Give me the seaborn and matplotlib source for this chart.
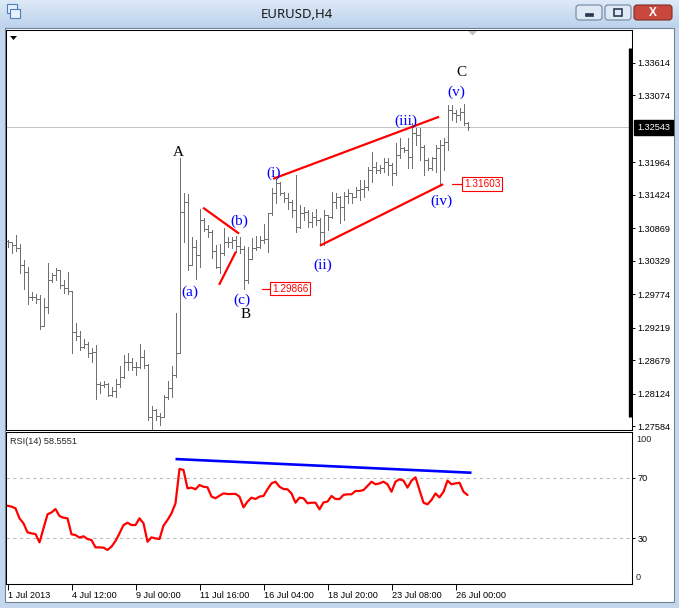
import numpy as np
import pandas as pd
import matplotlib
matplotlib.use("Agg")
import matplotlib.pyplot as plt
import matplotlib.transforms as mtransforms
from matplotlib.patches import Rectangle, FancyBboxPatch, Polygon
from matplotlib.lines import Line2D
from matplotlib.colors import LinearSegmentedColormap
import seaborn as sns

# ------------------------------------------------------------------ data
window_title = "EURUSD,H4"
time_labels = ["1 Jul 2013", "4 Jul 12:00", "9 Jul 00:00", "11 Jul 16:00",
               "16 Jul 04:00", "18 Jul 20:00", "23 Jul 08:00", "26 Jul 00:00"]
bars_per_label = 16

opens = [1.3066, 1.3064, 1.3059, 1.3054, 1.3026, 1.3014, 1.2973, 1.2973, 1.2970, 1.2925,
         1.2956, 1.3001, 1.3010, 1.3018, 1.2993, 1.2988, 1.2983, 1.2915, 1.2908, 1.2890,
         1.2895, 1.2880, 1.2882, 1.2829, 1.2827, 1.2829, 1.2810, 1.2817, 1.2829, 1.2840,
         1.2865, 1.2865, 1.2857, 1.2857, 1.2873, 1.2860, 1.2774, 1.2785, 1.2775, 1.2774,
         1.2807, 1.2822, 1.2844, 1.2880, 1.3114, 1.3131, 1.3026, 1.3056, 1.3043, 1.3101,
         1.3086, 1.3081, 1.3049, 1.3023, 1.3046, 1.3064, 1.3064, 1.3068, 1.3058, 1.3053,
         1.3001, 1.3036, 1.3054, 1.3056, 1.3068, 1.3069, 1.3112, 1.3146, 1.3162, 1.3146,
         1.3137, 1.3131, 1.3117, 1.3089, 1.3112, 1.3114, 1.3097, 1.3106, 1.3101, 1.3081,
         1.3109, 1.3106, 1.3131, 1.3139, 1.3122, 1.3141, 1.3146, 1.3139, 1.3151, 1.3152,
         1.3156, 1.3184, 1.3189, 1.3184, 1.3187, 1.3197, 1.3192, 1.3179, 1.3209, 1.3220,
         1.3217, 1.3205, 1.3245, 1.3242, 1.3222, 1.3200, 1.3187, 1.3204, 1.3220, 1.3225,
         1.3230, 1.3283, 1.3278, 1.3275, 1.3280, 1.3262]
highs = [1.3068, 1.3064, 1.3076, 1.3061, 1.3034, 1.3023, 1.2981, 1.2978, 1.2976, 1.2971,
         1.3029, 1.3013, 1.3021, 1.3018, 1.3001, 1.3014, 1.2983, 1.2930, 1.2917, 1.2903,
         1.2898, 1.2888, 1.2893, 1.2832, 1.2834, 1.2830, 1.2824, 1.2837, 1.2858, 1.2877,
         1.2880, 1.2872, 1.2865, 1.2895, 1.2885, 1.2862, 1.2792, 1.2787, 1.2780, 1.2810,
         1.2834, 1.2858, 1.2946, 1.3204, 1.3146, 1.3144, 1.3073, 1.3068, 1.3119, 1.3104,
         1.3092, 1.3084, 1.3059, 1.3061, 1.3088, 1.3073, 1.3073, 1.3074, 1.3073, 1.3058,
         1.3056, 1.3071, 1.3074, 1.3074, 1.3094, 1.3112, 1.3154, 1.3169, 1.3164, 1.3147,
         1.3146, 1.3134, 1.3176, 1.3126, 1.3122, 1.3117, 1.3114, 1.3119, 1.3104, 1.3117,
         1.3109, 1.3147, 1.3146, 1.3141, 1.3147, 1.3152, 1.3146, 1.3156, 1.3167, 1.3167,
         1.3189, 1.3214, 1.3197, 1.3192, 1.3204, 1.3204, 1.3195, 1.3229, 1.3237, 1.3222,
         1.3237, 1.3262, 1.3254, 1.3254, 1.3225, 1.3204, 1.3205, 1.3225, 1.3234, 1.3237,
         1.3292, 1.3292, 1.3283, 1.3287, 1.3293, 1.3263]
lows = [1.3056, 1.3046, 1.3049, 1.3013, 1.2986, 1.2961, 1.2968, 1.2963, 1.2920, 1.2925,
        1.2946, 1.2998, 1.3001, 1.2988, 1.2980, 1.2978, 1.2880, 1.2902, 1.2885, 1.2888,
        1.2873, 1.2865, 1.2804, 1.2814, 1.2824, 1.2809, 1.2809, 1.2807, 1.2824, 1.2839,
        1.2852, 1.2852, 1.2844, 1.2855, 1.2855, 1.2769, 1.2754, 1.2769, 1.2761, 1.2774,
        1.2804, 1.2807, 1.2840, 1.2880, 1.3064, 1.3018, 1.3026, 1.3003, 1.3023, 1.3083,
        1.3073, 1.3038, 1.3021, 1.3013, 1.3043, 1.3056, 1.3054, 1.3048, 1.3046, 1.29866,
        1.2996, 1.3036, 1.3051, 1.3054, 1.3063, 1.3048, 1.3109, 1.3129, 1.3142, 1.3131,
        1.3119, 1.3106, 1.3081, 1.3088, 1.3101, 1.3089, 1.3089, 1.3092, 1.3059, 1.3059,
        1.3084, 1.3104, 1.3121, 1.3096, 1.3101, 1.3129, 1.3129, 1.3139, 1.3134, 1.3139,
        1.3151, 1.3164, 1.3179, 1.3179, 1.3180, 1.3176, 1.3159, 1.3176, 1.3204, 1.3214,
        1.3187, 1.3187, 1.3225, 1.3200, 1.3176, 1.3184, 1.3184, 1.3180, 1.31603, 1.3184,
        1.3217, 1.3267, 1.3263, 1.3267, 1.3259, 1.3250]
closes = [1.3064, 1.3059, 1.3054, 1.3026, 1.3014, 1.2973, 1.2973, 1.2970, 1.2925, 1.2956,
          1.3001, 1.3010, 1.3018, 1.2993, 1.2988, 1.2983, 1.2915, 1.2908, 1.2890, 1.2895,
          1.2880, 1.2882, 1.2829, 1.2827, 1.2829, 1.2810, 1.2817, 1.2829, 1.2840, 1.2865,
          1.2865, 1.2857, 1.2857, 1.2873, 1.2860, 1.2774, 1.2785, 1.2775, 1.2774, 1.2807,
          1.2822, 1.2844, 1.2880, 1.3114, 1.3131, 1.3026, 1.3056, 1.3043, 1.3101, 1.3086,
          1.3081, 1.3049, 1.3023, 1.3046, 1.3064, 1.3064, 1.3068, 1.3058, 1.3053, 1.3001,
          1.3036, 1.3054, 1.3056, 1.3068, 1.3069, 1.3112, 1.3146, 1.3162, 1.3146, 1.3137,
          1.3131, 1.3117, 1.3089, 1.3112, 1.3114, 1.3097, 1.3106, 1.3101, 1.3081, 1.3109,
          1.3106, 1.3131, 1.3139, 1.3122, 1.3141, 1.3146, 1.3139, 1.3151, 1.3152, 1.3156,
          1.3184, 1.3189, 1.3184, 1.3187, 1.3197, 1.3192, 1.3179, 1.3209, 1.3220, 1.3217,
          1.3205, 1.3245, 1.3242, 1.3222, 1.3200, 1.3187, 1.3204, 1.3220, 1.3225, 1.3230,
          1.3283, 1.3278, 1.3275, 1.3280, 1.3262, 1.32543]
rsi_values = [51.5, 50.9, 49.8, 43.2, 39.9, 34.0, 33.3, 32.9, 27.4, 36.6,
              45.8, 47.1, 49.3, 44.7, 43.6, 43.2, 32.7, 32.2, 30.5, 31.4,
              29.6, 28.9, 24.1, 24.1, 23.9, 22.4, 24.6, 28.3, 33.3, 38.8,
              40.3, 38.8, 38.8, 43.2, 39.9, 27.8, 30.7, 30.0, 29.6, 38.4,
              42.1, 46.5, 53.1, 75.7, 75.0, 62.9, 63.4, 62.3, 65.1, 64.0,
              63.6, 57.5, 56.4, 58.1, 59.6, 59.2, 59.2, 59.3, 57.5, 50.4,
              54.2, 56.8, 55.9, 57.5, 57.9, 62.3, 66.2, 67.3, 64.0, 62.5,
              62.3, 59.6, 53.5, 56.8, 56.4, 53.1, 53.5, 53.5, 49.1, 53.7,
              54.2, 57.9, 55.9, 55.9, 58.6, 59.0, 59.0, 61.2, 61.2, 61.8,
              64.5, 67.3, 65.6, 66.2, 67.3, 65.6, 60.7, 67.3, 68.9, 68.0,
              63.4, 68.0, 70.2, 61.8, 53.5, 52.4, 55.3, 59.6, 57.0, 60.7,
              68.0, 65.6, 66.2, 66.6, 60.7, 58.56]
rsi_title = "RSI(14) 58.5551"
rsi_levels = [70, 30]
price_ticks = [1.33614, 1.33074, 1.31964, 1.31424, 1.30869, 1.30329,
               1.29774, 1.29219, 1.28679, 1.28124, 1.27584]
bid_price = 1.32543

level_prices = [1.29866, 1.31603]
level_line_from = [63.6, 111.1]
level_line_to = [65.6, 113.6]

wave_text = ["A", "B", "C", "(a)", "(b)", "(c)", "(i)", "(ii)", "(iii)", "(iv)", "(v)"]
wave_bar = [42.6, 59.6, 113.6, 45.6, 57.9, 58.6, 66.6, 78.9, 99.6, 108.6, 112.1]
wave_price = [1.3212, 1.2943, 1.3346, 1.2980, 1.3098, 1.2968, 1.3179, 1.3026, 1.3265, 1.3132, 1.3313]
wave_color = ["black", "black", "black"] + ["#0000ff"] * 8

trend_bar0 = [48.9, 52.9, 66.4, 78.1]
trend_price0 = [1.3121, 1.2993, 1.3169, 1.3058]
trend_bar1 = [57.9, 57.1, 107.9, 108.9]
trend_price1 = [1.3078, 1.3048, 1.3272, 1.3160]

rsi_trend_bar = [42, 116]
rsi_trend_val = [82.2, 73.2]

# ------------------------------------------------------------------ setup
W, H = 679, 608
sns.set_theme(style="white")
plt.rcParams['font.family'] = ['Liberation Sans', 'DejaVu Sans']

fig = plt.figure(figsize=(W / 100, H / 100), dpi=100)
fig.patch.set_facecolor('#c4d7ed')


def frect(x0, y0, x1, y1):
    return [x0 / W, 1 - y1 / H, (x1 - x0) / W, (y1 - y0) / H]


# window chrome (pixel coordinates)
bg = fig.add_axes([0, 0, 1, 1], zorder=-10)
bg.axis('off')
cmap = LinearSegmentedColormap.from_list('t', ['#dde9f7', '#bcd3ec'])
bg.imshow(np.linspace(0, 1, 28)[:, None], extent=(0, W, 28, 0), cmap=cmap, aspect='auto')
bg.set_xlim(0, W)
bg.set_ylim(H, 0)
bg.add_patch(Rectangle((4.5, 27.5), 669, 574, fc='white', ec='#6f8298', lw=0.8))
bg.text(297, 14, window_title, ha='center', va='center', fontsize=9.5,
        family=['Noto Sans', 'DejaVu Sans'], color='#1a1a1a')
# title-bar buttons
for x0, w, fc, ec in [(576, 26, '#dfe9f5', '#71869f'), (605, 26, '#dfe9f5', '#71869f'),
                      (634, 38, '#c9483e', '#7d2c26')]:
    bg.add_patch(FancyBboxPatch((x0, 5), w, 15, boxstyle='round,pad=0,rounding_size=3',
                                fc=fc, ec=ec, lw=0.8))
bg.add_patch(Rectangle((585, 13), 8, 2.5, fc='#2b3c52', ec='#2b3c52', lw=0.5))
bg.add_patch(Rectangle((614, 9), 8, 7, fc='none', ec='#2b3c52', lw=1.2))
bg.text(653, 12.5, "X", ha='center', va='center', fontsize=8.5, fontweight='bold', color='white')
# app icon
bg.add_patch(Rectangle((7, 4), 10, 9, fc='#e8f0fb', ec='#4a7fc1', lw=0.8))
bg.add_patch(Rectangle((10, 9), 10, 9, fc='#e8f0fb', ec='#4a7fc1', lw=0.8))

ax = fig.add_axes(frect(6, 30, 632, 430))
ax2 = fig.add_axes(frect(6, 432, 632, 584))
xlim = (-0.375, 156.125)

df = pd.DataFrame({'bar': np.arange(len(opens)), 'open': opens, 'high': highs,
                   'low': lows, 'close': closes, 'rsi': rsi_values})

# ------------------------------------------------------------------ main chart
bar_col = '#707070'
ax.axhline(bid_price, color='#c4c4c4', lw=0.7, zorder=0)
ax.vlines(df['bar'], df['low'], df['high'], color=bar_col, lw=0.6, antialiased=False)
ax.hlines(df['open'], df['bar'] - 0.42, df['bar'], color=bar_col, lw=0.6, antialiased=False)
ax.hlines(df['close'], df['bar'], df['bar'] + 0.42, color=bar_col, lw=0.6, antialiased=False)

for b0, p0, b1, p1 in zip(trend_bar0, trend_price0, trend_bar1, trend_price1):
    ax.plot([b0, b1], [p0, p1], color='#ff0000', lw=1.6, solid_capstyle='butt')

for t, b, p, c in zip(wave_text, wave_bar, wave_price, wave_color):
    ax.text(b, p, t, ha='center', va='center', color=c, fontsize=11,
            family=['Liberation Serif', 'DejaVu Serif'])

for p, a0, a1 in zip(level_prices, level_line_from, level_line_to):
    ax.plot([a0, a1], [p, p], color='#ff0000', lw=0.9)
    ax.text(a1 + 0.55, p, f"{p:.5f}", ha='left', va='center', color='#ff0000', fontsize=7.2,
            bbox=dict(boxstyle='square,pad=0.18', fc='white', ec='#ff0000', lw=0.8))

ax.set_xlim(*xlim)
ax.set_ylim(1.2752, 1.3416)
ax.set_xticks([])
ax.yaxis.tick_right()
ax.set_yticks(price_ticks)
ax.set_yticklabels([f"{v:.5f}" for v in price_ticks])
ax.tick_params(axis='y', right=True, left=False, labelright=True, labelleft=False,
               length=2.5, width=0.7, pad=1.5, labelsize=6.6, colors='black', direction='out')
ax.add_line(Line2D([1 - 2.0 / 626] * 2, [(430 - 417) / 400, (430 - 48) / 400],
                   transform=ax.transAxes, color='black', lw=2.4, solid_capstyle='butt'))
ax.annotate(f"{bid_price:.5f}", xy=(1, bid_price), xycoords=('axes fraction', 'data'),
            xytext=(5, 0), textcoords='offset pixels', ha='left', va='center', fontsize=6.6,
            color='white', annotation_clip=False,
            bbox=dict(boxstyle='square,pad=0.3', fc='black', ec='black'))

# ------------------------------------------------------------------ RSI panel
sns.lineplot(data=df, x='bar', y='rsi', ax=ax2, color='#ff0000', linewidth=1.6)
ax2.plot(rsi_trend_bar, rsi_trend_val, color='#0000ff', lw=1.9, solid_capstyle='butt')
for lv in rsi_levels:
    ax2.axhline(lv, color='#bdbdbd', lw=0.8, ls=(0, (3, 3)), zorder=0)
ax2.set_xlim(*xlim)
ax2.set_ylim(0, 100)
ax2.set_xlabel('')
ax2.set_ylabel('')
ax2.yaxis.tick_right()
ax2.set_yticks(rsi_levels)
ax2.set_yticklabels([str(v) for v in rsi_levels])
ax2.tick_params(axis='y', right=True, left=False, labelright=True, labelleft=False,
                length=2.5, width=0.7, pad=1.5, labelsize=6.6, colors='black', direction='out')
ax2.annotate("100", xy=(1, 1), xycoords='axes fraction', xytext=(4, -8),
             textcoords='offset pixels', ha='left', va='center', fontsize=6.6)
ax2.annotate("0", xy=(1, 0), xycoords='axes fraction', xytext=(4, 6),
             textcoords='offset pixels', ha='left', va='center', fontsize=6.6)
ax2.annotate(rsi_title, xy=(0, 1), xycoords='axes fraction', xytext=(4, -9),
             textcoords='offset pixels', ha='left', va='center', fontsize=6.6)

ax2.set_xticks(df['bar'][::bars_per_label])
ax2.set_xticklabels(time_labels)
ax2.tick_params(axis='x', bottom=True, length=4, width=0.7, pad=1, labelsize=6.6,
                colors='black', direction='out')
shift = mtransforms.ScaledTranslation(1 / 100, 0, fig.dpi_scale_trans)
for lbl in ax2.get_xticklabels():
    lbl.set_horizontalalignment('left')
    lbl.set_transform(lbl.get_transform() + shift)

for a in (ax, ax2):
    a.set_facecolor('white')
    for s in a.spines.values():
        s.set_color('black')
        s.set_linewidth(0.75)

# small chart markers
ov = fig.add_axes([0, 0, 1, 1], zorder=20)
ov.axis('off')
ov.set_xlim(0, W)
ov.set_ylim(H, 0)
ov.add_patch(Polygon([(10, 36), (17, 36), (13.5, 40)], closed=True, fc='black', ec='none'))
ov.add_patch(Polygon([(468, 31), (477, 31), (472.5, 35.5)], closed=True, fc='#c0c0c0', ec='none'))

fig.savefig("out.png", dpi=100)
